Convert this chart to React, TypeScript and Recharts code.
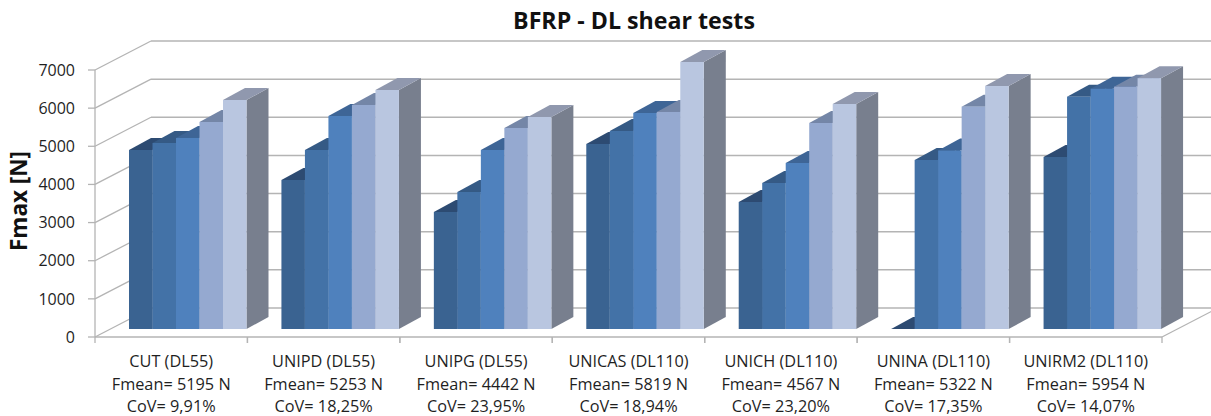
import React from "react";
import { BarChart, Bar, XAxis, YAxis, CartesianGrid } from "recharts";

const categories = ["CUT (DL55)", "UNIPD (DL55)", "UNIPG (DL55)", "UNICAS (DL110)", "UNICH (DL110)", "UNINA (DL110)", "UNIRM2 (DL110)"];
const fmeanLabels = ["Fmean= 5195 N", "Fmean= 5253 N", "Fmean= 4442 N", "Fmean= 5819 N", "Fmean= 4567 N", "Fmean= 5322 N", "Fmean= 5954 N"];
const covLabels = ["CoV= 9,91%", "CoV= 18,25%", "CoV= 23,95%", "CoV= 18,94%", "CoV= 23,20%", "CoV= 17,35%", "CoV= 14,07%"];
const specimen1 = [4693, 3907, 3068, 4851, 3330, 0, 4510];
const specimen2 = [4877, 4693, 3592, 5191, 3828, 4431, 6091];
const specimen3 = [5008, 5585, 4693, 5663, 4352, 4680, 6300];
const specimen4 = [5427, 5873, 5270, 5690, 5401, 5830, 6353];
const specimen5 = [6004, 6266, 5559, 7000, 5899, 6370, 6576];
const yTicks = [0, 1000, 2000, 3000, 4000, 5000, 6000, 7000];

const data = categories.map((name, i) => ({
  name, fmean: fmeanLabels[i], cov: covLabels[i],
  s1: specimen1[i], s2: specimen2[i], s3: specimen3[i], s4: specimen4[i], s5: specimen5[i],
}));

const W = 1211, H = 416, PL = 95, PR = 1162, PT = 70, PB = 337;
const BAND = (PR - PL) / categories.length;
const FONT = "'Open Sans', sans-serif";
const TXT = "#1f1f1f";
const GRID = "#b4b4b4";
const WALL_DX = 56, WALL_DY = -29;
const PLANE_DX = 17, PLANE_DY = -8;
const DEPTH_DX = 22, DEPTH_DY = -12;

const makeShape = (front: string, top: string, side: string) => (p: any) => {
  const x = p.x + PLANE_DX, y = p.y + PLANE_DY, w = p.width, h = p.height;
  return (
    <g>
      <path d={`M${x + w},${y} l${DEPTH_DX},${DEPTH_DY} v${h} l${-DEPTH_DX},${-DEPTH_DY} z`} fill={side} />
      <path d={`M${x},${y} l${DEPTH_DX},${DEPTH_DY} h${w} l${-DEPTH_DX},${-DEPTH_DY} z`} fill={top} />
      <rect x={x} y={y} width={w} height={h} fill={front} />
    </g>
  );
};

const gridLine = (p: any) => {
  const { x1, x2, y1 } = p;
  const isFloor = Math.abs(y1 - PB) < 0.5;
  return (
    <g key={p.key ?? y1}>
      <line x1={x1} y1={y1} x2={x1 + WALL_DX} y2={y1 + WALL_DY} stroke={GRID} strokeWidth={1.3} />
      <line x1={x1 + WALL_DX} y1={y1 + WALL_DY} x2={x2 + WALL_DX} y2={y1 + WALL_DY} stroke={GRID} strokeWidth={1.5} />
      {isFloor && <line x1={x2} y1={y1} x2={x2 + WALL_DX} y2={y1 + WALL_DY} stroke={GRID} strokeWidth={1.3} />}
    </g>
  );
};

const XTick = (p: any) => {
  const { x, index } = p;
  return (
    <g>
      <line x1={x - BAND / 2} y1={PB} x2={x - BAND / 2} y2={PB + 6} stroke={GRID} strokeWidth={1.3} />
      <line x1={x + BAND / 2} y1={PB} x2={x + BAND / 2} y2={PB + 6} stroke={GRID} strokeWidth={1.3} />
      <text x={x} y={367} textAnchor="middle" fontFamily={FONT} fontSize={16.3} fill={TXT}>{categories[index]}</text>
      <text x={x} y={390} textAnchor="middle" fontFamily={FONT} fontSize={16.3} fill={TXT}>{fmeanLabels[index]}</text>
      <text x={x} y={412} textAnchor="middle" fontFamily={FONT} fontSize={16.3} fill={TXT}>{covLabels[index]}</text>
    </g>
  );
};

export default function App() {
  return (
    <div style={{ position: "absolute", left: 0, top: 0, width: W, height: H }}>
      <BarChart width={W} height={H} data={data} margin={{ top: PT, right: W - PR, bottom: 0, left: 0 }} barGap={0} barSize={23.5}>
        <text x={634} y={29} textAnchor="middle" fontFamily={FONT} fontSize={23.2} fontWeight={700} fill="#111">BFRP - DL shear tests</text>
        <text transform="rotate(-90 27 201)" x={27} y={201} textAnchor="middle" fontFamily={FONT} fontSize={22.5} fontWeight={700} fill="#111">Fmax [N]</text>
        <CartesianGrid vertical={false} horizontal={gridLine} />
        <XAxis dataKey="name" interval={0} height={H - PB} tick={<XTick />} tickLine={false} axisLine={{ stroke: GRID, strokeWidth: 1.3 }} />
        <YAxis width={PL} domain={[0, 7000]} ticks={yTicks} interval={0} tickSize={7} tickMargin={13} tick={{ fontFamily: FONT, fontSize: 16, fill: TXT }} tickLine={{ stroke: GRID, strokeWidth: 1.3 }} axisLine={{ stroke: GRID, strokeWidth: 1.3 }} />
        <Bar dataKey="s1" isAnimationActive={false} shape={makeShape("#3a6391", "#2d4b72", "#2d4b72")} />
        <Bar dataKey="s2" isAnimationActive={false} shape={makeShape("#4372a7", "#355a85", "#355a85")} />
        <Bar dataKey="s3" isAnimationActive={false} shape={makeShape("#4f81bd", "#3e6596", "#3e6596")} />
        <Bar dataKey="s4" isAnimationActive={false} shape={makeShape("#95a9d0", "#7486a7", "#7486a7")} />
        <Bar dataKey="s5" isAnimationActive={false} shape={makeShape("#b9c6e0", "#9098ae", "#787f8e")} />
      </BarChart>
    </div>
  );
}
